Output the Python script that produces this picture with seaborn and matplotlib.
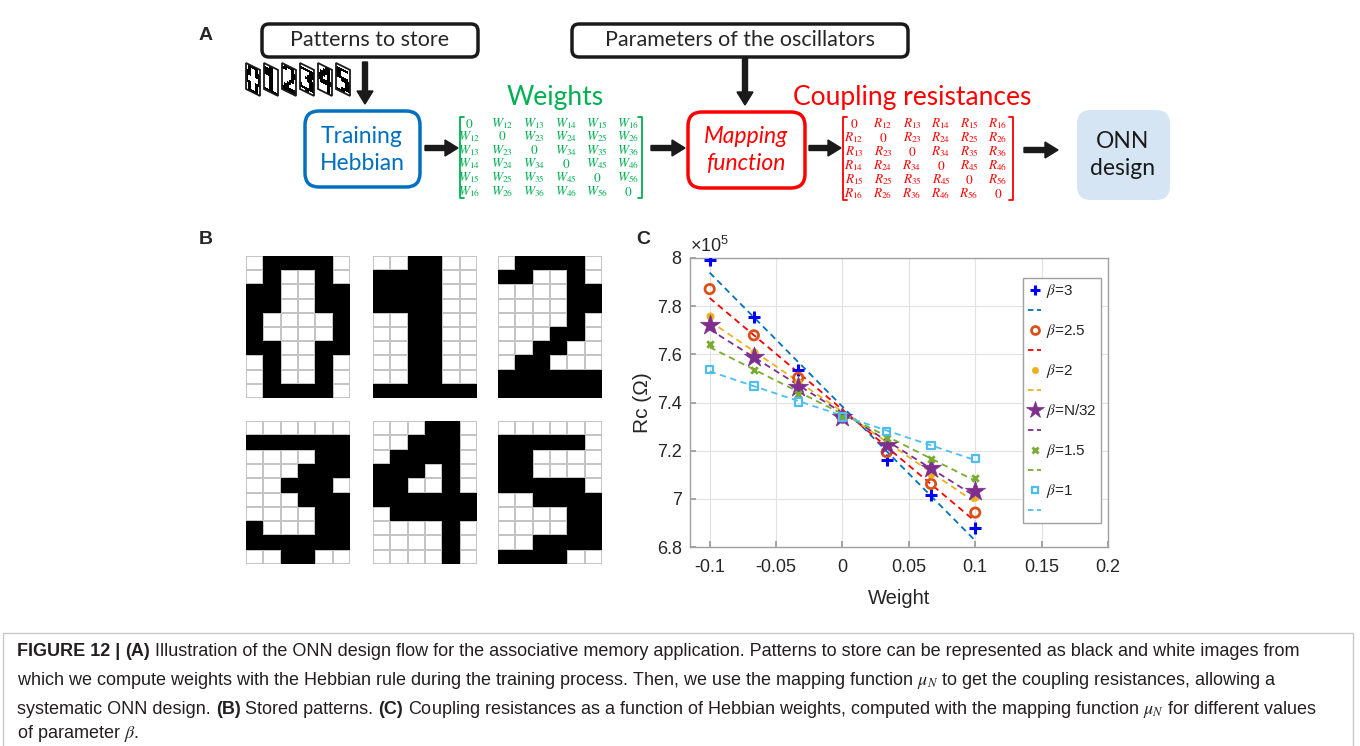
import numpy as np
import seaborn as sns
import matplotlib.pyplot as plt
from matplotlib.colors import ListedColormap
from matplotlib.patches import FancyBboxPatch, Rectangle
from matplotlib.lines import Line2D
from matplotlib.transforms import Affine2D
from matplotlib import font_manager as fm

# ---- stored patterns (1 = black pixel), 10 rows x 6 columns ----
digit_0 = ["011110", "010010", "110011", "110011", "100001",
           "100001", "110011", "010010", "010010", "011110"]
digit_1 = ["001100", "111100", "111100", "111100", "001100",
           "001100", "001100", "001100", "001100", "111111"]
digit_2 = ["011110", "110010", "000011", "000011", "000010",
           "000110", "001100", "011000", "111111", "111111"]
digit_3 = ["000000", "111111", "000011", "000111", "001110",
           "000111", "000011", "100011", "111111", "001100"]
digit_4 = ["000110", "001110", "011110", "111010", "110010",
           "111111", "011111", "000010", "000010", "000010"]
digit_5 = ["000000", "111110", "110000", "110000", "111110",
           "001111", "000011", "000011", "001111", "111100"]
digits = [digit_0, digit_1, digit_2, digit_3, digit_4, digit_5]

# ---- panel C: coupling resistance (x1e5 ohm) vs Hebbian weight ----
weights = [-0.1, -0.0667, -0.0333, 0.0, 0.0333, 0.0667, 0.1]
rc_beta3 = [7.993, 7.754, 7.536, 7.340, 7.163, 7.015, 6.879]
rc_beta25 = [7.871, 7.679, 7.503, 7.340, 7.194, 7.062, 6.943]
rc_beta2 = [7.758, 7.608, 7.485, 7.340, 7.229, 7.104, 7.008]
rc_betaN32 = [7.723, 7.588, 7.464, 7.340, 7.225, 7.128, 7.031]
rc_beta15 = [7.644, 7.536, 7.437, 7.340, 7.254, 7.167, 7.088]
rc_beta1 = [7.536, 7.468, 7.402, 7.340, 7.280, 7.222, 7.167]
beta_labels = ["3", "2.5", "2", "N/32", "1.5", "1"]

x_ticks = [-0.1, -0.05, 0, 0.05, 0.1, 0.15, 0.2]
y_ticks = [6.8, 7.0, 7.2, 7.4, 7.6, 7.8, 8.0]

sns.set_theme(style="white")
plt.rcParams['font.family'] = ['Liberation Sans', 'DejaVu Sans']
plt.rcParams['mathtext.fontset'] = 'stix'

W, H = 1360, 746
fig = plt.figure(figsize=(13.6, 7.46), dpi=100)


def px_axes(x0, y0, x1, y1):
    return fig.add_axes([x0 / W, 1 - y1 / H, (x1 - x0) / W, (y1 - y0) / H])


# overlay axes in pixel units for the diagram, labels and caption
ov = fig.add_axes([0, 0, 1, 1])
ov.axis('off')

diag = 'Lato'


def rbox(x0, y0, x1, y1, ec, fc='none', lw=2.5, r=10):
    ov.add_patch(FancyBboxPatch((x0, y0), x1 - x0, y1 - y0,
                                boxstyle=f"round,pad=0,rounding_size={r}",
                                ec=ec, fc=fc, lw=lw))


def arrow(x0, y0, x1, y1, hw=16, hl=13):
    ov.arrow(x0, y0, x1 - x0, y1 - y0, width=5, head_width=hw, head_length=hl,
             length_includes_head=True, fc='k', ec='k')


def bracket_matrix(x_l, x_r, y_t, y_b, cols, rows, letter, color):
    for xb, d in [(x_l, 4), (x_r, -4)]:
        ov.plot([xb + d, xb, xb, xb + d], [y_t, y_t, y_b, y_b], color=color, lw=1.3)
    for i, yy in enumerate(rows):
        for j, xx in enumerate(cols):
            if i == j:
                s = '$0$'
            else:
                a, b = min(i, j) + 1, max(i, j) + 1
                s = f'${letter}_{{{a}{b}}}$'
            ov.text(xx, yy, s, color=color, fontsize=9.5, ha='center', va='center')


# ---- panel A ----
ov.text(199, 35, 'A', fontsize=14, fontweight='bold', va='center')
rbox(262, 24, 478, 57, 'k', r=7)
ov.text(370, 40, 'Patterns to store', family=diag, fontsize=15.5, ha='center', va='center')
rbox(572, 24, 908, 57, 'k', r=7)
ov.text(740, 40, 'Parameters of the oscillators', family=diag, fontsize=15.5,
        ha='center', va='center')

# little sheared pattern thumbnails
cw, ch, sh = 14 / 6, 26 / 10, 1.15
for k, d in enumerate(digits):
    arr = np.array([[int(c) for c in row] for row in d])
    x0 = 246 + 18 * k
    tr = Affine2D(np.array([[cw, 0, x0], [sh, ch, 63], [0, 0, 1]])) + ov.transData
    ov.imshow(arr, cmap='gray_r', extent=(0, 6, 10, 0), interpolation='nearest',
              transform=tr, aspect='auto')
    ov.add_patch(Rectangle((0, 0), 6, 10, transform=tr, fill=False, ec='k', lw=1.3))
arrow(365, 62, 365, 104)
arrow(745, 58, 745, 105)

rbox(305, 111, 420, 187, '#0070C0', r=14)
ov.text(362, 150, 'Training\nHebbian', family=diag, fontsize=16.5, color='#0070C0',
        ha='center', va='center', linespacing=1.3)
arrow(425, 148, 458, 148)

ov.text(555, 97, 'Weights', family=diag, fontsize=19, color='#00B050', ha='center', va='center')
bracket_matrix(460, 642, 117, 198, [469, 502, 534, 566, 597, 628],
               [124, 137, 151, 164, 178, 192], 'W', '#00B050')
arrow(651, 148, 685, 148)

rbox(688, 112, 805, 188, '#FF0000', r=14)
ov.text(746, 150, 'Mapping\nfunction', family=diag, fontsize=16.5, color='#FF0000',
        style='italic', ha='center', va='center', linespacing=1.3)
arrow(809, 148, 841, 148)

ov.text(912, 97, 'Coupling resistances', family=diag, fontsize=19, color='#FF0000',
        ha='center', va='center')
bracket_matrix(843, 1013, 117, 200, [854, 883, 912, 941, 969, 998],
               [124, 138, 152, 166, 180, 194], 'R', '#FF0000')
arrow(1024, 150, 1058, 150)

rbox(1077, 110, 1170, 200, 'none', fc='#D5E5F3', lw=0, r=14)
ov.text(1123, 155, 'ONN\ndesign', family=diag, fontsize=16.5, color='k',
        ha='center', va='center', linespacing=1.3)

# ---- panel B: stored patterns ----
ov.text(199, 240, 'B', fontsize=14, fontweight='bold', va='center')
pat_x = [(246, 350), (373, 477), (498, 602)]
pat_y = [(256, 398), (421, 564)]
for k, d in enumerate(digits):
    arr = np.array([[int(c) for c in row] for row in d])
    (xa, xb), (ya, yb) = pat_x[k % 3], pat_y[k // 3]
    axd = px_axes(xa, ya, xb, yb)
    # white grid first, then the black pixels on top without edges
    sns.heatmap(np.zeros_like(arr), cmap=ListedColormap(['white']),
                cbar=False, linewidths=1.1, linecolor='#c4c4c4',
                xticklabels=False, yticklabels=False, ax=axd)
    sns.heatmap(arr, mask=arr == 0, cmap=ListedColormap(['black']), vmin=0, vmax=1,
                cbar=False, linewidths=0, xticklabels=False, yticklabels=False, ax=axd)

# ---- panel C ----
ov.text(636, 240, 'C', fontsize=14, fontweight='bold', va='center')
axc = px_axes(690, 258, 1108, 547)

series = [
    (rc_beta3, '+', '#0000FF', '#0072BD', 70, 2.2, True),
    (rc_beta25, 'o', '#D95319', '#FF0000', 45, 2.0, False),
    (rc_beta2, 'o', '#EDB120', '#EDB120', 28, 0.5, True),
    (rc_betaN32, '*', '#7E2F8E', '#7E2F8E', 230, 0.5, True),
    (rc_beta15, 'x', '#77AC30', '#77AC30', 22, 2.0, True),
    (rc_beta1, 's', '#4DBEEE', '#4DBEEE', 28, 1.6, False),
]
handles, labels = [], []
for (rc, mk, mc, lc, s, lw, filled), lab in zip(series, beta_labels):
    sns.scatterplot(x=weights, y=rc, marker=mk, s=s, color=mc, edgecolor=mc,
                    facecolor=mc if filled else 'none', linewidth=lw, ax=axc, zorder=3)
    sns.regplot(x=weights, y=rc, scatter=False, ci=None, truncate=True, color=lc,
                line_kws=dict(ls=(0, (3.5, 2.5)), lw=1.3, zorder=2), ax=axc)
    handles.append(Line2D([], [], ls='none', marker=mk, color=mc, mec=mc,
                          mfc=mc if filled else 'none', ms=np.sqrt(s) * 0.85, mew=lw))
    labels.append(rf'$\beta$={lab}')
    handles.append(Line2D([], [], ls=(0, (3, 2)), color=lc, lw=1.3))
    labels.append(' ')

axc.set_xlim(-0.1148, 0.2)
axc.set_ylim(6.8, 8.0)
axc.set_xticks(x_ticks)
axc.set_yticks(y_ticks)
axc.set_xticklabels([f'{v:g}' for v in x_ticks])
axc.set_yticklabels([f'{v:g}' for v in y_ticks])
axc.grid(True, color='#e2e2e2', lw=0.8)
axc.tick_params(direction='in', length=4, color='#9a9a9a', labelsize=13,
                labelcolor='#262626', bottom=True, left=True)
axc.tick_params(axis='x', pad=9)
axc.tick_params(axis='y', pad=6)
for sp in axc.spines.values():
    sp.set_color('#a0a0a0')
    sp.set_linewidth(1)
axc.set_xlabel('Weight', fontsize=14.5, color='#262626', labelpad=9)
axc.set_ylabel('Rc (Ω)', fontsize=15, color='#262626', labelpad=3)
ov.text(690, 252, r'$\mathregular{\times10^5}$', fontsize=13, color='#262626', va='baseline')
axc.legend(handles, labels, loc='upper left', bbox_to_anchor=(0.797, 0.932),
           frameon=True, fancybox=False, edgecolor='#a0a0a0', framealpha=1,
           fontsize=11, handlelength=0.9, handletextpad=0.3, labelspacing=0.26,
           borderpad=0.3, borderaxespad=0)

# ---- caption ----
names = {f.name for f in fm.fontManager.ttflist}
cap_font = 'Liberation Sans Narrow' if 'Liberation Sans Narrow' in names else 'Liberation Sans'
renderer = fig.canvas.get_renderer()
ov.set_xlim(0, W)
ov.set_ylim(H, 0)


def text_w(s, size, bold):
    t = ov.text(0, 0, s, fontsize=size, fontweight='bold' if bold else 'normal', family=cap_font)
    w = t.get_window_extent(renderer).width
    t.remove()
    return w


cap_lines = [
    [("FIGURE 12 |", True), ("(A)", True),
     ("Illustration of the ONN design flow for the associative memory application. "
      "Patterns to store can be represented as black and white images from", False)],
    [("which we compute weights with the Hebbian rule during the training process. "
      r"Then, we use the mapping function $\mu_N$ to get the coupling resistances, allowing a", False)],
    [("systematic ONN design.", False), ("(B)", True), ("Stored patterns.", False), ("(C)", True),
     ("Coupling resistances as a function of Hebbian weights, computed with the mapping "
      r"function $\mu_N$ for different values", False)],
    [(r"of parameter $\beta$.", False)],
]
base = 10
space = text_w('a a', base, False) - text_w('aa', base, False)
line1 = sum(text_w(s, base, b) for s, b in cap_lines[0]) + space * (len(cap_lines[0]) - 1)
cap_size = base * 1289 / line1
space *= cap_size / base
for yb, runs in zip([656, 685, 714, 738], cap_lines):
    x = 17
    for s, b in runs:
        t = ov.text(x, yb, s, fontsize=cap_size, fontweight='bold' if b else 'normal',
                    family=cap_font, color='#231f20', va='baseline')
        x += t.get_window_extent(renderer).width + space

ov.plot([3, 3, 1353, 1353], [750, 633, 633, 750], color='#c8c8c8', lw=1)

ov.set_xlim(0, W)
ov.set_ylim(H, 0)
ov.set_aspect('auto')

fig.savefig('out.png', dpi=100)
